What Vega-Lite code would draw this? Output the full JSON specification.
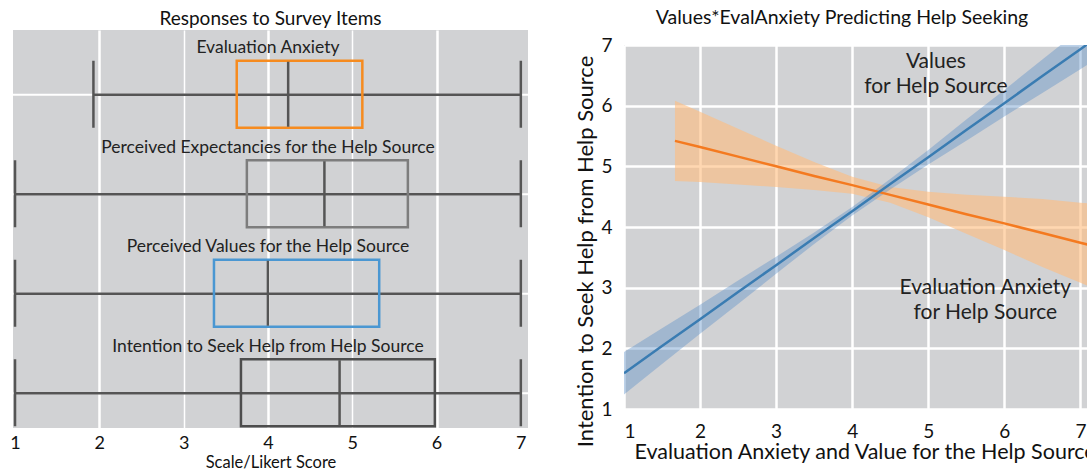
{
  "$schema": "https://vega.github.io/schema/vega-lite/v6.json",
  "padding": {"left": 9, "top": 7, "right": 0, "bottom": 0},
  "background": "white",
  "config": {
    "font": "Lato",
    "view": {"fill": "#d1d2d4", "stroke": null},
    "title": {"font": "Lato", "fontWeight": "normal", "color": "#111"},
    "axis": {"labelFont": "Lato", "titleFont": "Lato", "labelColor": "#111", "titleColor": "#111", "titleFontWeight": "normal", "ticks": false, "domain": false, "gridColor": "white", "format": "d"}
  },
  "datasets": {
    "items": [
      {"item": "Evaluation Anxiety", "min": 1.93, "q1": 3.63, "median": 4.24, "q3": 5.12, "max": 7},
      {"item": "Perceived Expectancies for the Help Source", "min": 1, "q1": 3.75, "median": 4.67, "q3": 5.66, "max": 7},
      {"item": "Perceived Values for the Help Source", "min": 1, "q1": 3.36, "median": 4.0, "q3": 5.32, "max": 7},
      {"item": "Intention to Seek Help from Help Source", "min": 1, "q1": 3.68, "median": 4.85, "q3": 5.98, "max": 7}
    ],
    "fits": [
      {"series": "EvalAnxiety", "x": 1.67, "y": 5.42, "lo": 4.76, "hi": 6.08},
      {"series": "EvalAnxiety", "x": 2, "y": 5.32, "lo": 4.74, "hi": 5.90},
      {"series": "EvalAnxiety", "x": 2.5, "y": 5.16, "lo": 4.70, "hi": 5.62},
      {"series": "EvalAnxiety", "x": 3, "y": 5.00, "lo": 4.66, "hi": 5.34},
      {"series": "EvalAnxiety", "x": 3.5, "y": 4.84, "lo": 4.61, "hi": 5.07},
      {"series": "EvalAnxiety", "x": 4, "y": 4.69, "lo": 4.55, "hi": 4.83},
      {"series": "EvalAnxiety", "x": 4.5, "y": 4.53, "lo": 4.40, "hi": 4.66},
      {"series": "EvalAnxiety", "x": 5, "y": 4.37, "lo": 4.16, "hi": 4.58},
      {"series": "EvalAnxiety", "x": 5.5, "y": 4.21, "lo": 3.89, "hi": 4.53},
      {"series": "EvalAnxiety", "x": 6, "y": 4.06, "lo": 3.62, "hi": 4.50},
      {"series": "EvalAnxiety", "x": 6.5, "y": 3.90, "lo": 3.34, "hi": 4.46},
      {"series": "EvalAnxiety", "x": 7, "y": 3.74, "lo": 3.08, "hi": 4.40},
      {"series": "EvalAnxiety", "x": 7.1, "y": 3.71, "lo": 3.03, "hi": 4.39},
      {"series": "Values", "x": 1, "y": 1.59, "lo": 1.24, "hi": 1.94},
      {"series": "Values", "x": 1.5, "y": 2.04, "lo": 1.74, "hi": 2.33},
      {"series": "Values", "x": 2, "y": 2.48, "lo": 2.24, "hi": 2.72},
      {"series": "Values", "x": 2.5, "y": 2.93, "lo": 2.73, "hi": 3.12},
      {"series": "Values", "x": 3, "y": 3.37, "lo": 3.23, "hi": 3.51},
      {"series": "Values", "x": 3.5, "y": 3.82, "lo": 3.72, "hi": 3.91},
      {"series": "Values", "x": 4, "y": 4.26, "lo": 4.19, "hi": 4.33},
      {"series": "Values", "x": 4.5, "y": 4.71, "lo": 4.62, "hi": 4.79},
      {"series": "Values", "x": 5, "y": 5.15, "lo": 5.03, "hi": 5.27},
      {"series": "Values", "x": 5.5, "y": 5.60, "lo": 5.42, "hi": 5.77},
      {"series": "Values", "x": 6, "y": 6.04, "lo": 5.82, "hi": 6.26},
      {"series": "Values", "x": 6.5, "y": 6.49, "lo": 6.21, "hi": 6.76},
      {"series": "Values", "x": 7, "y": 6.93, "lo": 6.60, "hi": 7.26},
      {"series": "Values", "x": 7.1, "y": 7.02, "lo": 6.68, "hi": 7.36}
    ],
    "notes": [
      {"label": "Values", "x": 5.1, "y": 6.72},
      {"label": "for Help Source", "x": 5.1, "y": 6.31},
      {"label": "Evaluation Anxiety", "x": 5.75, "y": 3.0},
      {"label": "for Help Source", "x": 5.75, "y": 2.59}
    ]
  },
  "hconcat": [
    {
      "width": 515,
      "height": 398,
      "title": {"text": "Responses to Survey Items", "fontSize": 19, "offset": 1},
      "data": {"name": "items"},
      "encoding": {
        "y": {"field": "item", "type": "nominal", "sort": null, "axis": null, "scale": {"paddingInner": 0, "paddingOuter": 0}}
      },
      "layer": [
        {
          "mark": {"type": "rule", "color": "white", "strokeWidth": 2, "yOffset": 15},
          "encoding": {}
        },
        {
          "mark": {"type": "rule", "color": "#555", "strokeWidth": 2.5, "yOffset": 15},
          "encoding": {
            "x": {"field": "min", "type": "quantitative", "title": "Scale/Likert Score",
              "scale": {"domain": [0.976, 7.085], "nice": false, "zero": false},
              "axis": {"values": [1, 2, 3, 4, 5, 6, 7], "labelFontSize": 18, "labelPadding": 6, "titleFontSize": 16.5, "titlePadding": 2,
                "gridWidth": {"condition": {"test": "datum.value % 2 == 1", "value": 1.5}, "value": 2.5},
                "gridOpacity": {"condition": {"test": "datum.value == 1 || datum.value == 7", "value": 0}, "value": 1}}},
            "x2": {"field": "max"}
          }
        },
        {
          "mark": {"type": "bar", "height": 67, "yOffset": 14.5, "fillOpacity": 0, "strokeWidth": 2.5},
          "encoding": {
            "x": {"field": "q1", "type": "quantitative"},
            "x2": {"field": "q3"},
            "stroke": {"field": "item", "type": "nominal", "legend": null, "scale": {
              "domain": ["Evaluation Anxiety", "Perceived Expectancies for the Help Source", "Perceived Values for the Help Source", "Intention to Seek Help from Help Source"],
              "range": ["#f68b1f", "#7d7d7d", "#4a97d2", "#4d4d4d"]}}
          }
        },
        {
          "mark": {"type": "tick", "color": "#555", "size": 65, "thickness": 2.5, "yOffset": 14.5, "opacity": 1},
          "encoding": {"x": {"field": "median", "type": "quantitative"}}
        },
        {
          "mark": {"type": "tick", "color": "#555", "size": 67, "thickness": 2.5, "yOffset": 14.5, "opacity": 1},
          "encoding": {"x": {"field": "min", "type": "quantitative"}}
        },
        {
          "mark": {"type": "tick", "color": "#555", "size": 67, "thickness": 2.5, "yOffset": 14.5, "opacity": 1},
          "encoding": {"x": {"field": "max", "type": "quantitative"}}
        },
        {
          "mark": {"type": "text", "fontSize": 17.5, "color": "#222", "yOffset": -31.75, "baseline": "middle"},
          "encoding": {"x": {"datum": 4.0, "type": "quantitative"}, "text": {"field": "item"}}
        }
      ]
    },
    {
      "spacing": 5,
      "vconcat": [
        {
          "width": 464,
          "height": 1,
          "view": {"fill": null, "stroke": null},
          "title": {"text": "Values*EvalAnxiety Predicting Help Seeking", "fontSize": 19.5, "offset": 2, "dx": -14},
          "data": {"values": []},
          "mark": "point"
        },
        {
          "width": 464,
          "height": 364,
          "data": {"name": "fits"},
          "encoding": {
            "x": {"field": "x", "type": "quantitative", "title": "Evaluation Anxiety and Value for the Help Source",
              "scale": {"domain": [1, 7.1], "nice": false, "zero": false},
              "axis": {"values": [1, 2, 3, 4, 5, 6, 7], "labelFontSize": 19, "labelPadding": 13, "titleFontSize": 21.5, "titlePadding": 0, "titleAlign": "left", "titleX": 10, "gridWidth": 2.5}},
            "color": {"field": "series", "type": "nominal", "legend": null, "scale": {"domain": ["EvalAnxiety", "Values"], "range": ["#f47a20", "#3a7cb2"]}}
          },
          "layer": [
            {
              "mark": {"type": "area", "clip": true},
              "encoding": {
                "y": {"field": "lo", "type": "quantitative", "title": "Intention to Seek Help from Help Source",
                  "scale": {"domain": [1, 7], "nice": false, "zero": false},
                  "axis": {"values": [1, 2, 3, 4, 5, 6, 7], "labelFontSize": 19, "labelPadding": 12, "titleFontSize": 22, "titlePadding": 3, "titleY": 206, "gridWidth": 2.5}},
                "y2": {"field": "hi"},
                "fill": {"field": "series", "type": "nominal", "legend": null, "scale": {"domain": ["EvalAnxiety", "Values"], "range": ["#ffbd7d", "#5b8fc8"]}},
                "opacity": {"field": "series", "type": "nominal", "legend": null, "scale": {"domain": ["EvalAnxiety", "Values"], "range": [0.6, 0.4]}}
              }
            },
            {
              "mark": {"type": "line", "strokeWidth": 2.5, "clip": true},
              "encoding": {"y": {"field": "y", "type": "quantitative"}}
            },
            {
              "data": {"name": "notes"},
              "mark": {"type": "text", "fontSize": 21, "color": "#222", "baseline": "middle"},
              "encoding": {
                "x": {"field": "x", "type": "quantitative"},
                "y": {"field": "y", "type": "quantitative"},
                "text": {"field": "label"},
                "color": {"value": "#222"}
              }
            }
          ]
        }
      ]
    }
  ],
  "spacing": 45
}
